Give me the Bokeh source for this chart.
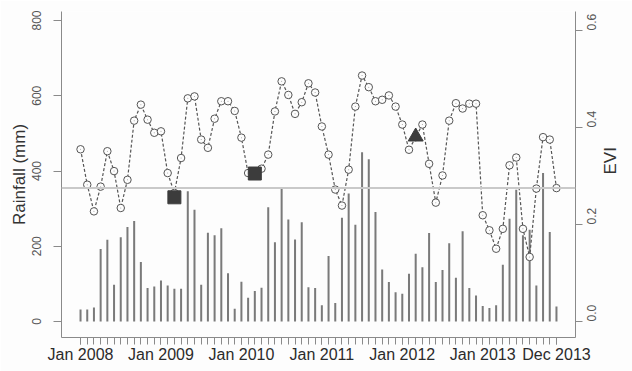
import numpy as np
from bokeh.plotting import figure
from bokeh.models import Range1d, LinearAxis, FixedTicker, Span, NumeralTickFormatter, ColumnDataSource
from bokeh.embed import file_html
from bokeh.resources import INLINE

# ---------------- data ----------------
months = [f"{y}-{m:02d}" for y in range(2008, 2014) for m in range(1, 13)]

rainfall = [32, 32, 37, 193, 217, 98, 224, 251, 267, 158, 89, 93,
            109, 96, 87, 87, 346, 297, 98, 236, 229, 248, 128, 34,
            106, 63, 81, 90, 304, 211, 355, 271, 218, 264, 91, 89,
            43, 174, 49, 276, 340, 257, 450, 431, 291, 138, 105, 78,
            74, 127, 180, 144, 235, 105, 137, 208, 116, 240, 89, 69,
            41, 36, 43, 151, 273, 350, 229, 244, 96, 395, 238, 40]

evi = [0.355, 0.282, 0.227, 0.278, 0.351, 0.310, 0.234, 0.292, 0.414, 0.447, 0.416, 0.389,
       0.392, 0.306, 0.265, 0.337, 0.460, 0.464, 0.375, 0.358, 0.418, 0.454, 0.454, 0.434,
       0.379, 0.306, 0.305, 0.315, 0.344, 0.433, 0.495, 0.467, 0.428, 0.452, 0.491, 0.472,
       0.402, 0.344, 0.272, 0.239, 0.313, 0.443, 0.507, 0.483, 0.454, 0.457, 0.466, 0.443,
       0.406, 0.354, 0.380, 0.406, 0.325, 0.245, 0.301, 0.414, 0.450, 0.439, 0.449, 0.449,
       0.219, 0.188, 0.150, 0.191, 0.322, 0.338, 0.191, 0.133, 0.274, 0.380, 0.375, 0.275]

square_months = ["2009-03", "2010-03"]
square_evi = [0.256, 0.305]
triangle_months = ["2012-03"]
triangle_evi = [0.381]

evi_reference = 0.275

tick_months = ["2008-01", "2009-01", "2010-01", "2011-01", "2012-01", "2013-01", "2013-12"]
tick_labels = ["Jan 2008", "Jan 2009", "Jan 2010", "Jan 2011", "Jan 2012", "Jan 2013", "Dec 2013"]

rain_ticks = [0, 200, 400, 600, 800]
evi_ticks = [0.0, 0.2, 0.4, 0.6]

# ---------------- plot ----------------
idx = {m: i for i, m in enumerate(months)}
x = [idx[m] for m in months]

FONT = "Liberation Sans"
AXIS_COL = "#8a8a8a"

p = figure(width=632, height=371,
           x_range=Range1d(-2.84, 73.84), y_range=Range1d(-42.5, 824.0),
           output_backend="svg", toolbar_location=None,
           min_border_left=61, min_border_right=52, min_border_top=11, min_border_bottom=34)
p.extra_y_ranges = {"evi": Range1d(-0.033, 0.639)}
p.outline_line_color = None
p.xgrid.visible = False
p.ygrid.visible = False
p.background_fill_color = "#fdfdfd"
p.border_fill_color = "#fdfdfd"

# rainfall bars
p.vbar(x=x, top=rainfall, bottom=0, width=0.3, fill_color="#7a7a7a", line_color=None)

# reference line
p.add_layout(Span(location=evi_reference, dimension="width", y_range_name="evi",
                  line_color="#c9c9c9", line_width=2))

# EVI dashed line with open circles
src = ColumnDataSource(dict(x=x, y=evi))
p.line("x", "y", source=src, y_range_name="evi", line_color="#555555",
       line_width=1.2, line_dash="3 2")
p.scatter("x", "y", source=src, y_range_name="evi", marker="circle", size=7.5,
          fill_color="#fdfdfd", line_color="#555555", line_width=1)
p.scatter("x", "y", source=src, y_range_name="evi", marker="dot", size=4,
          line_color="#9a9a9a")

# special markers
p.scatter([idx[m] for m in square_months], square_evi, y_range_name="evi",
          marker="square", size=13, fill_color="#3c3c3c", line_color="#3c3c3c")
p.scatter([idx[m] for m in triangle_months], triangle_evi, y_range_name="evi",
          marker="triangle", size=15, fill_color="#3c3c3c", line_color="#3c3c3c")

def style_axis(ax):
    ax.axis_line_color = AXIS_COL
    ax.major_tick_line_color = AXIS_COL
    ax.minor_tick_line_color = AXIS_COL
    ax.major_tick_in = 0
    ax.major_tick_out = 7
    ax.minor_tick_in = 0
    ax.minor_tick_out = 0
    ax.major_label_text_font = FONT
    ax.axis_label_text_font = FONT
    ax.axis_label_text_font_style = "normal"
    ax.axis_label_text_color = "#333333"

yl = p.yaxis[0]
style_axis(yl)
yl.major_tick_out = 8
yl.ticker = FixedTicker(ticks=rain_ticks)
yl.major_label_orientation = "vertical"
yl.major_label_text_font_size = "12px"
yl.major_label_text_color = "#555555"
yl.major_label_standoff = 12
yl.axis_label = "Rainfall (mm)"
yl.axis_label_text_font_size = "17px"
yl.axis_label_standoff = 1

yr = LinearAxis(y_range_name="evi")
style_axis(yr)
yr.ticker = FixedTicker(ticks=evi_ticks)
yr.formatter = NumeralTickFormatter(format="0.0")
yr.major_label_orientation = np.pi / 2
yr.major_label_text_font_size = "12px"
yr.major_label_text_color = "#555555"
yr.major_label_standoff = 9
yr.axis_label = "EVI"
yr.axis_label_text_font_size = "17px"
yr.axis_label_standoff = 7
yr.axis_label_orientation = np.pi / 2
p.add_layout(yr, "right")

xb = p.xaxis[0]
style_axis(xb)
xb.ticker = FixedTicker(ticks=[idx[m] for m in tick_months], minor_ticks=x)
xb.major_label_overrides = {idx[m]: lab for m, lab in zip(tick_months, tick_labels)}
xb.minor_tick_out = 7
xb.major_label_text_font_size = "16px"
xb.major_label_text_color = "#2b2b2b"
xb.major_label_standoff = 1

open("out.html", "w").write(file_html(p, INLINE))
